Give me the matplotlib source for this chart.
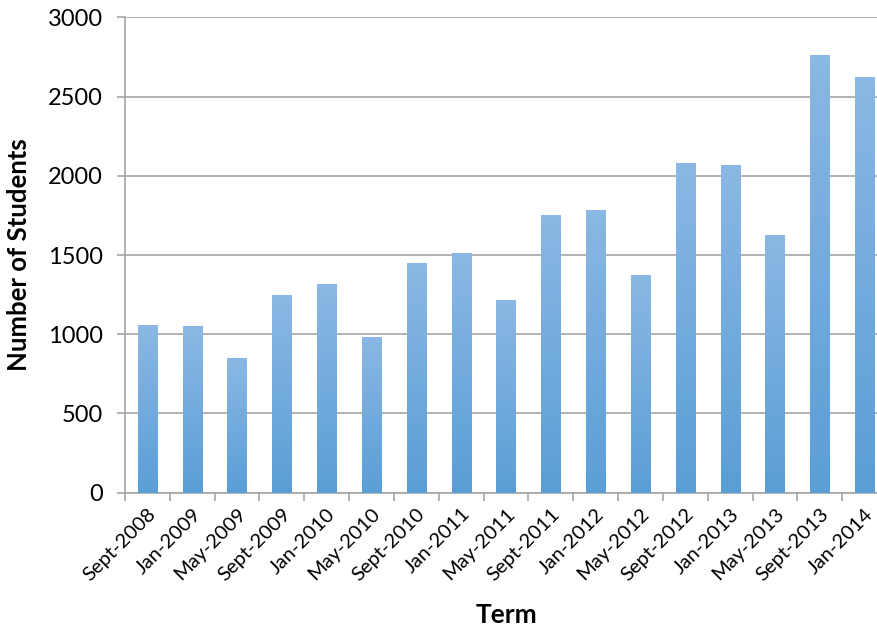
import numpy as np
import matplotlib
matplotlib.use("Agg")
import matplotlib.pyplot as plt
from matplotlib.colors import LinearSegmentedColormap

# Enrolment per term
terms = ["Sept-2008", "Jan-2009", "May-2009", "Sept-2009", "Jan-2010", "May-2010",
         "Sept-2010", "Jan-2011", "May-2011", "Sept-2011", "Jan-2012", "May-2012",
         "Sept-2012", "Jan-2013", "May-2013", "Sept-2013", "Jan-2014"]
students = [1060, 1052, 850, 1248, 1318, 985, 1450, 1512, 1215, 1752, 1783, 1374,
            2080, 2067, 1625, 2766, 2622]

plt.rcParams['font.family'] = ['Lato', 'DejaVu Sans']

fig = plt.figure(figsize=(8.77, 6.27), dpi=100)
# right edge of the plot area runs slightly past the figure
ax = fig.add_axes([0.1425, 0.2142, 0.869, 0.758])

x = np.arange(len(terms))
bars = ax.bar(x, students, width=0.43, color='none', edgecolor='none', zorder=3)

# vertical gradient fill for each bar: light on top, darker at the base
cmap = LinearSegmentedColormap.from_list('blue_grad', ['#5A9ED6', '#8BB8E4'])
grad = np.linspace(0, 1, 256).reshape(-1, 1)
for b in bars:
    x0, w, h = b.get_x(), b.get_width(), b.get_height()
    im = ax.imshow(grad, cmap=cmap, origin='lower', aspect='auto',
                   extent=[x0, x0 + w, 0, h], zorder=3)
    im.set_clip_path(b)

ax.set_xlim(-0.5, len(terms) - 0.5)
ax.set_ylim(0, 3000)
ax.set_yticks(np.arange(0, 3001, 500))
ax.yaxis.grid(True, color='#A6A6A6', linewidth=1.2, zorder=0)
ax.set_axisbelow(True)

for side in ['top', 'right']:
    ax.spines[side].set_visible(False)
for side in ['left', 'bottom']:
    ax.spines[side].set_color('#A6A6A6')
    ax.spines[side].set_linewidth(1.2)

ax.set_xticks(x)
ax.set_xticklabels(terms, rotation=45, ha='right', rotation_mode='anchor', fontsize=14.5)
ax.set_xticks(np.arange(-0.5, len(terms)), minor=True)
ax.tick_params(axis='x', which='major', length=0, pad=9)
ax.tick_params(axis='x', which='minor', length=6, color='#A6A6A6', width=1.2)
ax.tick_params(axis='y', length=6, color='#A6A6A6', width=1.2, labelsize=17, pad=10)

ax.set_xlabel('Term', fontsize=19, fontweight='bold', labelpad=14)
ax.set_ylabel('Number of Students', fontsize=18.5, fontweight='bold', labelpad=12)

fig.savefig('out.png', dpi=100)
